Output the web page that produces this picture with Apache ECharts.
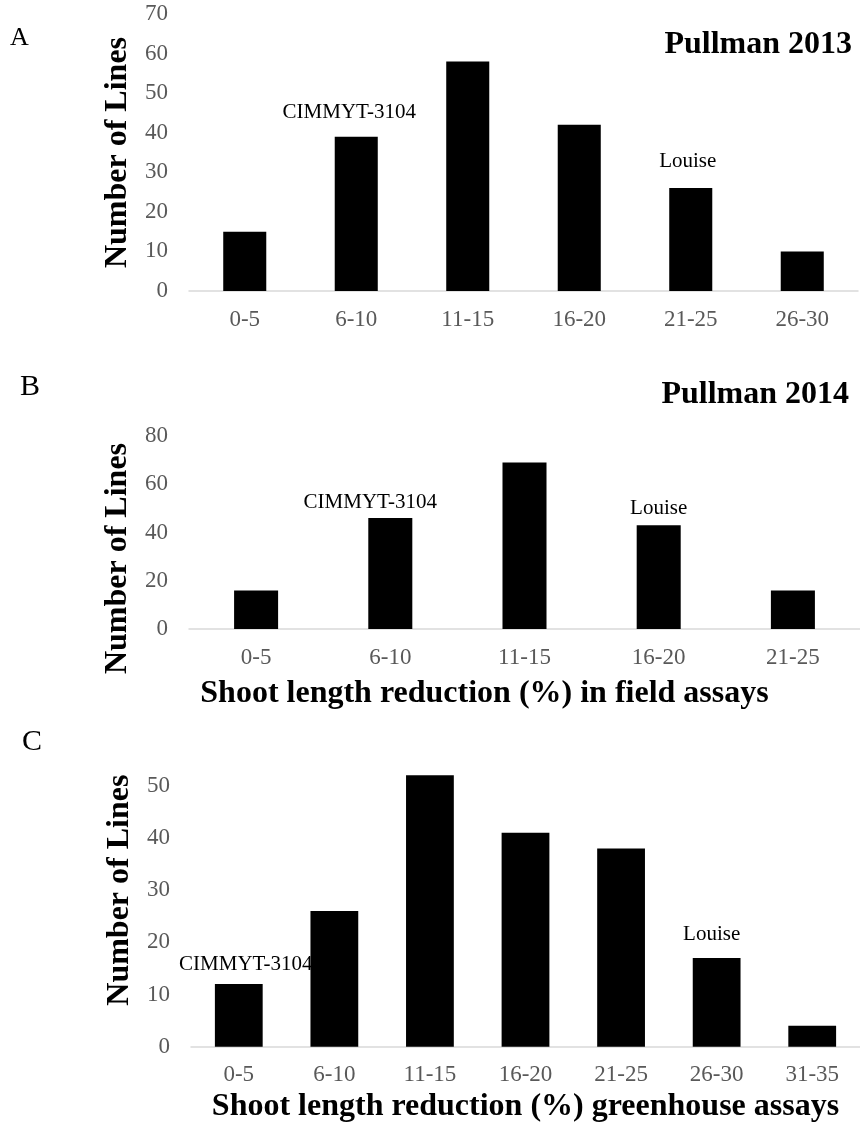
<!DOCTYPE html>
<html>
<head>
<meta charset="utf-8">
<script src="https://cdn.jsdelivr.net/npm/echarts@6/dist/echarts.min.js"></script>
<style>
  html, body { margin: 0; padding: 0; background: #fff; }
  #chart { width: 860px; height: 1126px; }
</style>
</head>
<body>
<div id="chart"></div>
<script>
// panel A - Pullman 2013
const catsA = ["0-5", "6-10", "11-15", "16-20", "21-25", "26-30"];
const linesA = [15, 39, 58, 42, 26, 10];
// panel B - Pullman 2014
const catsB = ["0-5", "6-10", "11-15", "16-20", "21-25"];
const linesB = [16, 46, 69, 43, 16];
// panel C - greenhouse
const catsC = ["0-5", "6-10", "11-15", "16-20", "21-25", "26-30", "31-35"];
const linesC = [12, 26, 52, 41, 38, 17, 4];

// which bar carries which check line
const notesA = { 1: "CIMMYT-3104", 4: "Louise" };
const notesB = { 1: "CIMMYT-3104", 3: "Louise" };
const notesC = { 0: "CIMMYT-3104", 5: "Louise" };

const serif = "'Liberation Serif', 'Times New Roman', serif";
const grey = "#595959";

// label shifts, px (x, y) relative to the bar top
const noteShift = {
  A: { 1: [-7, -14], 4: [-3, -16] },
  B: { 1: [-20, -5], 3: [0, -6] },
  C: { 0: [7, -9], 5: [-5, -13] }
};

function barData(values, notes, shifts) {
  return values.map((v, i) => {
    if (!(i in notes)) return v;
    return {
      value: v,
      label: {
        show: true,
        position: "top",
        distance: 0,
        offset: shifts[i],
        formatter: notes[i],
        color: "#000",
        fontFamily: serif,
        fontSize: 21
      }
    };
  });
}

function xAxisFor(gridIndex, cats, name, nameGap, namePad) {
  return {
    type: "category",
    gridIndex: gridIndex,
    data: cats,
    axisLine: { lineStyle: { color: "#d9d9d9", width: 1.5 } },
    axisTick: { show: false },
    axisLabel: { color: grey, fontFamily: serif, fontSize: 23, margin: 17 },
    name: name,
    nameLocation: "middle",
    nameGap: nameGap,
    nameTextStyle: {
      color: "#000", fontFamily: serif, fontSize: 32, fontWeight: "bold",
      padding: namePad || 0
    }
  };
}

function yAxisFor(gridIndex, max, interval, opts) {
  return Object.assign({
    type: "value",
    gridIndex: gridIndex,
    min: 0,
    max: max,
    interval: interval,
    splitLine: { show: false },
    axisLine: { show: false },
    axisTick: { show: false },
    axisLabel: { color: grey, fontFamily: serif, fontSize: 23, margin: 21 },
    name: "Number of Lines",
    nameLocation: "middle",
    nameGap: 54,
    nameTextStyle: { color: "#000", fontFamily: serif, fontSize: 32, fontWeight: "bold" }
  }, opts || {});
}

const chart = echarts.init(document.getElementById("chart"), null, { renderer: "canvas" });

const titleStyle = { color: "#000", fontFamily: serif, fontWeight: "normal" };
const boldTitle = { color: "#000", fontFamily: serif, fontWeight: "bold", fontSize: 32 };

chart.setOption({
  animation: false,
  backgroundColor: "#fff",
  title: [
    { text: "A", left: 5, top: 20, textStyle: Object.assign({ fontSize: 26 }, titleStyle) },
    { text: "Pullman 2013", right: 3, top: 24, textStyle: boldTitle },
    { text: "B", left: 15, top: 367, textStyle: Object.assign({ fontSize: 30 }, titleStyle) },
    { text: "Pullman 2014", right: 6, top: 374, textStyle: boldTitle },
    { text: "C", left: 17, top: 722, textStyle: Object.assign({ fontSize: 30 }, titleStyle) }
  ],
  grid: [
    { left: 189, right: 2, top: 14, height: 277 },
    { left: 189, right: 0, top: 436, height: 193 },
    { left: 191, right: 0, top: 733.6, height: 313.1 }
  ],
  xAxis: [
    xAxisFor(0, catsA, "", 0),
    xAxisFor(1, catsB, "Shoot length reduction (%) in field assays", 49, [0, 80, 0, 0]),
    xAxisFor(2, catsC, "Shoot length reduction (%) greenhouse assays", 44)
  ],
  yAxis: [
    yAxisFor(0, 70, 10),
    yAxisFor(1, 80, 20, {
      nameTextStyle: { color: "#000", fontFamily: serif, fontSize: 32, fontWeight: "bold", padding: [0, 52, 0, 0] }
    }),
    yAxisFor(2, 60, 10, {
      axisLabel: { color: grey, fontFamily: serif, fontSize: 23, margin: 21, showMaxLabel: false }
    })
  ],
  series: [
    {
      type: "bar", xAxisIndex: 0, yAxisIndex: 0, barWidth: "38.6%",
      itemStyle: { color: "#000" },
      data: barData(linesA, notesA, noteShift.A)
    },
    {
      type: "bar", xAxisIndex: 1, yAxisIndex: 1, barWidth: "32.8%",
      itemStyle: { color: "#000" },
      data: barData(linesB, notesB, noteShift.B)
    },
    {
      type: "bar", xAxisIndex: 2, yAxisIndex: 2, barWidth: "50%",
      itemStyle: { color: "#000" },
      data: barData(linesC, notesC, noteShift.C)
    }
  ]
});
</script>
</body>
</html>
